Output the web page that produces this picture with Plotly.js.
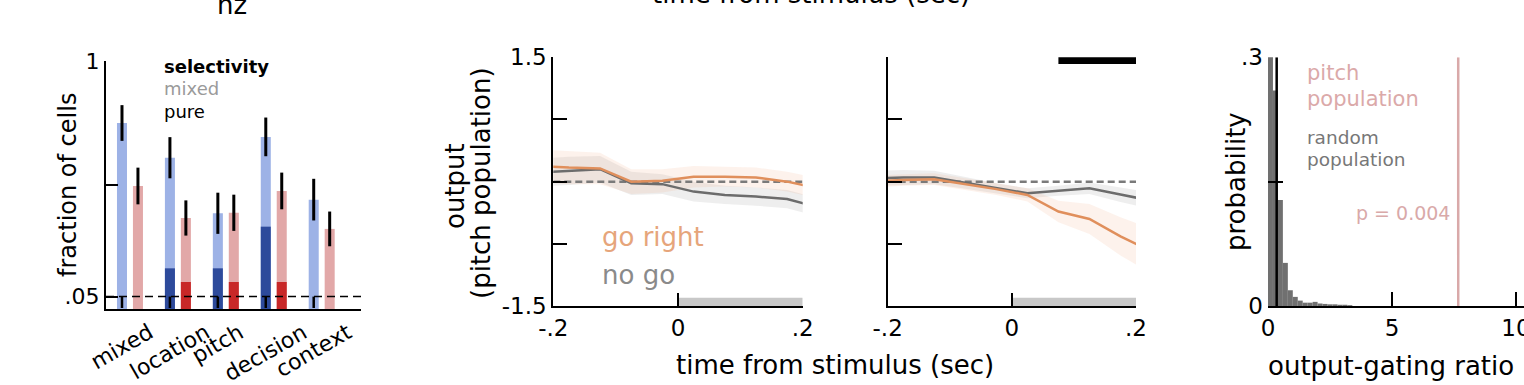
<!DOCTYPE html>
<html><head><meta charset="utf-8">
<script src="https://cdn.plot.ly/plotly-3.0.1.min.js"></script>
<style>html,body{margin:0;padding:0;background:#fff}#chart{width:1524px;height:385px}</style>
</head><body><div id="chart"></div>
<script>
// ---------- Panel A: fraction of selective cells ----------
const categories = ['mixed', 'location', 'pitch', 'decision', 'context'];
const blueTotal = [0.750, 0.610, 0.386, 0.694, 0.441];
const blueErr   = [0.072, 0.083, 0.083, 0.078, 0.084];
const bluePure  = [0, 0.164, 0.164, 0.332, 0];
const redTotal  = [0.496, 0.367, 0.388, 0.476, 0.323];
const redErr    = [0.074, 0.071, 0.073, 0.074, 0.070];
const redPure   = [0, 0.109, 0.109, 0.109, 0];
const nullLevel = [0.027, 0.027, 0.027, 0.027, 0.027];
const nullErr   = [0.023, 0.023, 0.023, 0.023, 0.023];
const chanceLevel = 0.05;
const fracTickVals = [0.05, 0.5, 1];
const fracTickText = ['.05', '', '1'];

// ---------- Panels B, C: output of pitch population ----------
const timeBins = [-0.225, -0.175, -0.125, -0.075, -0.025, 0.025, 0.075, 0.125, 0.175, 0.225];
const goRightB    = [0.19, 0.17, 0.16, 0.00, 0.01, 0.06, 0.06, 0.05, 0.00, -0.08];
const goRightSemB = [0.20, 0.20, 0.19, 0.15, 0.14, 0.13, 0.12, 0.12, 0.12, 0.12];
const noGoB       = [0.11, 0.13, 0.15, -0.02, -0.03, -0.12, -0.16, -0.18, -0.21, -0.31];
const noGoSemB    = [0.17, 0.17, 0.16, 0.14, 0.12, 0.12, 0.11, 0.11, 0.11, 0.11];
const goRightC    = [0.00, 0.02, 0.03, -0.03, -0.09, -0.16, -0.36, -0.45, -0.66, -0.84];
const goRightSemC = [0.07, 0.07, 0.07, 0.07, 0.07, 0.08, 0.13, 0.18, 0.23, 0.27];
const noGoC       = [0.04, 0.05, 0.05, -0.015, -0.08, -0.14, -0.11, -0.08, -0.155, -0.23];
const noGoSemC    = [0.09, 0.09, 0.08, 0.07, 0.06, 0.06, 0.06, 0.07, 0.09, 0.10];
const timeRange = [-0.2, 0.2];
const baselineLevel = 0;
const stimWindow = [0, 0.2];
const sigWindow = [0.075, 0.2];
const sigLevel = 1.46;
const outTickVals = [-1.5, -0.75, 0, 0.75, 1.5];
const outTickText = ['-1.5', '', '', '', '1.5'];
const timeTickVals = [-0.2, 0, 0.2];
const timeTickText = ['-.2', '0', '.2'];

// ---------- Panel D: output-gating ratio histogram ----------
const ratioBins = [0.1, 0.3, 0.5, 0.7, 0.9, 1.1, 1.3, 1.5, 1.7, 1.9, 2.1, 2.3, 2.5, 2.7, 2.9, 3.1, 3.3];
const ratioProb = [0.34, 0.26, 0.128, 0.052, 0.019, 0.011, 0.0065, 0.004, 0.004, 0.005, 0.003, 0.0025, 0.002, 0.002, 0.0015, 0.0015, 0.001];
const randomMean = 0.35;
const pitchRatio = 7.67;
const probRange = [0, 0.3];
const probTickVals = [0, 0.15, 0.3];
const probTickText = ['0', '', '.3'];
const ratioTickVals = [0, 5, 10];
const ratioTickText = ['0', '5', '10'];

// ---------- layout helpers ----------
const W = 1524, H = 385;
const FONT = 'DejaVu Sans, Verdana, sans-serif';
const px = v => v / W;
const py = v => 1 - v / H;

const LIGHT_BLUE = '#9db2e6', DARK_BLUE = '#2d4a9b';
const LIGHT_RED = '#e2a8a8', DARK_RED = '#c82828';
const ORANGE = '#e08f5c', GRAY_LINE = '#6c6c6c';

const barW = 0.209, blueOff = -0.271, redOff = 0.062;

function bar(y, color, off, err, xa, ya) {
  const t = {type: 'bar', x: categories, y: y, width: barW, offset: off,
    marker: {color: color, line: {width: 0}}, xaxis: xa, yaxis: ya, hoverinfo: 'skip'};
  if (err) t.error_y = {type: 'data', array: err, visible: true, color: '#000', thickness: 3, width: 0};
  return t;
}

function band(mean, sem, color, xa, ya) {
  const up = mean.map((m, i) => m + sem[i]);
  const lo = mean.map((m, i) => m - sem[i]);
  return {type: 'scatter', mode: 'lines', x: timeBins.concat(timeBins.slice().reverse()),
    y: up.concat(lo.slice().reverse()), fill: 'toself', fillcolor: color,
    line: {width: 0}, xaxis: xa, yaxis: ya, hoverinfo: 'skip'};
}
function line(mean, color, xa, ya) {
  return {type: 'scatter', mode: 'lines', x: timeBins, y: mean,
    line: {color: color, width: 2.5}, xaxis: xa, yaxis: ya, hoverinfo: 'skip'};
}
function baseline(xa, ya) {
  return {type: 'scatter', mode: 'lines', x: timeRange, y: [baselineLevel, baselineLevel],
    line: {color: '#7a7a7a', width: 2.5, dash: '7px,4px'}, xaxis: xa, yaxis: ya, hoverinfo: 'skip'};
}

const traces = [
  bar(blueTotal, LIGHT_BLUE, blueOff, blueErr, 'x', 'y'),
  bar(redTotal, LIGHT_RED, redOff, redErr, 'x', 'y'),
  bar(bluePure, DARK_BLUE, blueOff, null, 'x', 'y'),
  bar(redPure, DARK_RED, redOff, null, 'x', 'y'),
  Object.assign(bar(nullLevel, 'rgba(0,0,0,0)', blueOff, null, 'x', 'y'),
    {error_y: {type: 'data', array: nullErr, visible: true, color: '#000', thickness: 2.5, width: 0}}),

  band(noGoB, noGoSemB, 'rgba(170,170,170,0.2)', 'x2', 'y2'),
  band(goRightB, goRightSemB, 'rgba(245,175,135,0.16)', 'x2', 'y2'),
  baseline('x2', 'y2'),
  line(noGoB, GRAY_LINE, 'x2', 'y2'),
  line(goRightB, ORANGE, 'x2', 'y2'),

  band(noGoC, noGoSemC, 'rgba(170,170,170,0.2)', 'x3', 'y3'),
  band(goRightC, goRightSemC, 'rgba(245,175,135,0.16)', 'x3', 'y3'),
  baseline('x3', 'y3'),
  line(noGoC, GRAY_LINE, 'x3', 'y3'),
  line(goRightC, ORANGE, 'x3', 'y3'),
  {type: 'scatter', mode: 'lines', x: sigWindow, y: [sigLevel, sigLevel],
    line: {color: '#000', width: 7}, xaxis: 'x3', yaxis: 'y3', hoverinfo: 'skip'},

  {type: 'bar', x: ratioBins, y: ratioProb, width: 0.2, marker: {color: '#707070', line: {width: 0}},
    xaxis: 'x4', yaxis: 'y4', hoverinfo: 'skip'},
  {type: 'scatter', mode: 'lines', x: [randomMean, randomMean], y: probRange,
    line: {color: '#000', width: 2.5}, xaxis: 'x4', yaxis: 'y4', hoverinfo: 'skip'},
  {type: 'scatter', mode: 'lines', x: [pitchRatio, pitchRatio], y: probRange,
    line: {color: '#d9a9a9', width: 2.5}, xaxis: 'x4', yaxis: 'y4', hoverinfo: 'skip'}
];

const axisBase = {showline: true, linecolor: '#000', linewidth: 2, ticks: 'inside', tickwidth: 2,
  tickcolor: '#000', showgrid: false, zeroline: false, fixedrange: true, ticklabeloverflow: 'allow',
  tickfont: {family: FONT, size: 23, color: '#000'}};

const layout = {
  width: W, height: H, margin: {l: 0, r: 0, t: 0, b: 0},
  paper_bgcolor: '#fff', plot_bgcolor: 'rgba(0,0,0,0)', showlegend: false,
  font: {family: FONT, color: '#000'}, barmode: 'overlay',
  xaxis: Object.assign({}, axisBase, {domain: [px(106), px(361)], type: 'category',
    categoryorder: 'array', categoryarray: categories, range: [-0.5, 4.82],
    ticks: '', showticklabels: false, anchor: 'y'}),
  yaxis: Object.assign({}, axisBase, {domain: [py(309), py(61)], range: [0, 1],
    tickvals: fracTickVals, ticktext: fracTickText, ticklen: 12, anchor: 'x',
    tickfont: {family: FONT, size: 22, color: '#000'}}),
  xaxis2: Object.assign({}, axisBase, {domain: [px(553.3), px(802.7)], range: timeRange,
    tickvals: timeTickVals, ticktext: timeTickText, ticklen: 13, anchor: 'y2'}),
  yaxis2: Object.assign({}, axisBase, {domain: [py(306), py(57.3)], range: [-1.5, 1.5],
    tickvals: outTickVals, ticktext: outTickText, ticklen: 14, anchor: 'x2'}),
  xaxis3: Object.assign({}, axisBase, {domain: [px(887.7), px(1136)], range: timeRange,
    tickvals: timeTickVals, ticktext: timeTickText, ticklen: 13, anchor: 'y3'}),
  yaxis3: Object.assign({}, axisBase, {domain: [py(306), py(57.3)], range: [-1.5, 1.5],
    tickvals: outTickVals, showticklabels: false, ticklen: 14, anchor: 'x3'}),
  xaxis4: Object.assign({}, axisBase, {domain: [px(1268), 1], range: [0, (1524 - 1268) / 24.8],
    tickvals: ratioTickVals, ticktext: ratioTickText, ticklen: 14, anchor: 'y4'}),
  yaxis4: Object.assign({}, axisBase, {domain: [py(306), py(57.3)], range: probRange,
    tickvals: probTickVals, ticktext: probTickText, ticklen: 15, showline: false, anchor: 'x4',
    ticklabelstandoff: 4}),
  shapes: [
    {type: 'line', xref: 'x domain', yref: 'y', x0: 0, x1: 1, y0: chanceLevel, y1: chanceLevel,
      line: {color: '#000', width: 1.5, dash: '8px,5px'}},
    {type: 'rect', xref: 'x2', yref: 'y2', x0: stimWindow[0], x1: stimWindow[1], y0: -1.5, y1: -1.4,
      fillcolor: '#c8c8c8', line: {width: 0}, layer: 'below'},
    {type: 'rect', xref: 'x3', yref: 'y3', x0: stimWindow[0], x1: stimWindow[1], y0: -1.5, y1: -1.4,
      fillcolor: '#c8c8c8', line: {width: 0}, layer: 'below'}
  ],
  annotations: []
};

function ann(text, x, y, size, color, extra) {
  return Object.assign({text: text, xref: 'paper', yref: 'paper', x: px(x), y: py(y),
    showarrow: false, xanchor: 'center', yanchor: 'middle',
    font: {family: FONT, size: size, color: color}}, extra || {});
}
const A = layout.annotations;
// titles of the row above, cut by the top edge as in the reference
A.push(ann('hz', 232, 5, 26, '#000'));
A.push(ann('time from stimulus (sec)', 811, -6, 26, '#000'));
// panel A
A.push(ann('fraction of cells', 68, 185, 24, '#000', {textangle: -90}));
A.push(ann('<b>selectivity</b>', 162, 67, 18, '#000', {xanchor: 'left'}));
A.push(ann('mixed', 162, 89, 18, '#9a9a9a', {xanchor: 'left'}));
A.push(ann('pure', 162, 111, 18, '#000', {xanchor: 'left'}));
categories.forEach(c => A.push({text: c, xref: 'x', yref: 'paper', x: c, y: py(316),
  xshift: -8, showarrow: false, xanchor: 'center', yanchor: 'top', textangle: -30,
  font: {family: FONT, size: 22, color: '#000'}}));
// panels B, C
A.push(ann('output', 455, 186, 26, '#000', {textangle: -90}));
A.push(ann('(pitch population)', 481, 183, 26, '#000', {textangle: -90}));
A.push(ann('go right', 600, 237, 26, '#e6a57b', {xanchor: 'left'}));
A.push(ann('no go', 600, 275, 26, '#8a8a8a', {xanchor: 'left'}));
A.push(ann('time from stimulus (sec)', 835, 365, 26, '#000'));
// panel D
A.push(ann('probability', 1236, 182, 26, '#000', {textangle: -90}));
A.push(ann('pitch', 1305, 73, 21, '#dba9a9', {xanchor: 'left'}));
A.push(ann('population', 1305, 99, 21, '#dba9a9', {xanchor: 'left'}));
A.push(ann('random', 1305, 137, 18.5, '#777', {xanchor: 'left'}));
A.push(ann('population', 1305, 159, 18.5, '#777', {xanchor: 'left'}));
A.push(ann('p = 0.004', 1354, 213, 19, '#d9a9a9', {xanchor: 'left'}));
A.push(ann('output-gating ratio', 1266, 366, 26, '#000', {xanchor: 'left'}));

Plotly.newPlot('chart', traces, layout, {staticPlot: true, displayModeBar: false});
</script>
</body></html>
